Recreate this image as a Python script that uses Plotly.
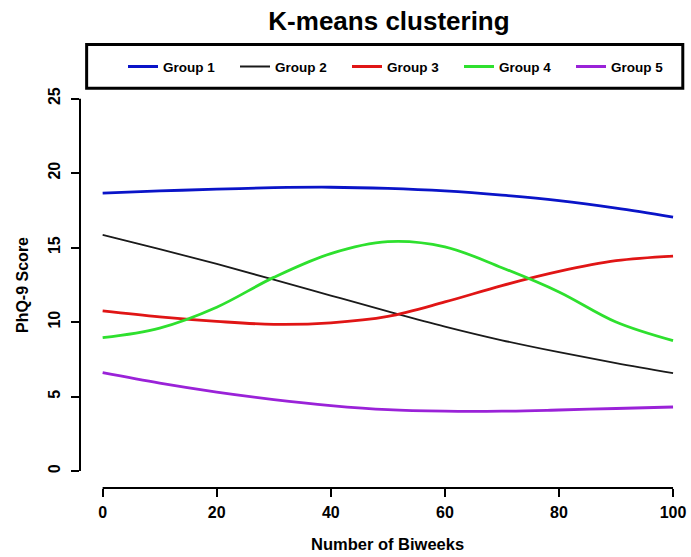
import plotly.graph_objects as go

# Biweek index at which each cluster trajectory is sampled
biweeks = [0, 10, 20, 30, 40, 50, 60, 70, 80, 90, 100]

group1 = [18.65, 18.80, 18.92, 19.02, 19.05, 18.97, 18.80, 18.52, 18.15, 17.65, 17.05]
group2 = [15.85, 14.90, 13.90, 12.85, 11.78, 10.72, 9.70, 8.78, 7.98, 7.25, 6.58]
group3 = [10.75, 10.35, 10.05, 9.85, 9.95, 10.38, 11.35, 12.45, 13.40, 14.12, 14.43]
group4 = [8.95, 9.60, 11.00, 13.00, 14.60, 15.40, 15.05, 13.65, 12.02, 10.00, 8.75]
group5 = [6.60, 5.90, 5.30, 4.80, 4.40, 4.12, 4.02, 4.02, 4.10, 4.20, 4.30]

series = [
    ("Group 1", group1, "#0a14c8", 2.8),
    ("Group 2", group2, "#1a1a1a", 1.8),
    ("Group 3", group3, "#e01515", 2.8),
    ("Group 4", group4, "#2ee02e", 2.8),
    ("Group 5", group5, "#9a22d8", 2.8),
]

x_ticks = [0, 20, 40, 60, 80, 100]
y_ticks = [0, 5, 10, 15, 20, 25]

FONT = "Liberation Sans, Arial, Helvetica, sans-serif"

fig = go.Figure()
for name, vals, color, width in series:
    fig.add_trace(go.Scatter(
        x=biweeks, y=vals, name=name, mode="lines",
        line=dict(color=color, width=width, shape="spline", smoothing=1.0),
    ))

W, H = 691, 557
L, R, T, B = 80, 5, 97, 69

fig.update_layout(
    width=W, height=H,
    margin=dict(l=L, r=R, t=T, b=B),
    paper_bgcolor="white", plot_bgcolor="white",
    font=dict(family=FONT, color="black"),
    title=dict(
        text="K-means clustering",
        x=389 / W, xanchor="center", xref="container",
        y=1 - 21 / H, yanchor="middle", yref="container",
        font=dict(size=26, weight="bold", family=FONT),
    ),
    showlegend=True,
    legend=dict(
        orientation="h",
        xref="container", yref="container",
        x=123 / W, xanchor="left",
        y=1 - 66.7 / H, yanchor="middle",
        bgcolor="rgba(0,0,0,0)", borderwidth=0,
        font=dict(size=13.5, weight="bold", family=FONT),
        entrywidth=67, entrywidthmode="pixels",
        traceorder="normal",
    ),
    xaxis=dict(
        range=[-3.97, 101.92], showgrid=False, zeroline=False, showline=False,
        tickmode="array", tickvals=x_ticks,
        ticks="outside", ticklen=8, tickwidth=2, tickcolor="black",
        tickfont=dict(size=16, weight="bold", family=FONT),
        ticklabelstandoff=2,
    ),
    yaxis=dict(
        range=[-1.136, 25.0], showgrid=False, zeroline=False, showline=False,
        tickmode="array", tickvals=y_ticks,
        ticks="outside", ticklen=8, tickwidth=2, tickcolor="black",
        tickfont=dict(size=16, weight="bold", family=FONT),
        tickangle=-90,
        ticklabelstandoff=5,
    ),
)

# Axis lines that only span the tick range
fig.add_shape(type="line", xref="x", yref="paper", x0=0, x1=100, y0=0, y1=0,
              line=dict(color="black", width=2))
fig.add_shape(type="line", xref="paper", yref="y", x0=0, x1=0, y0=0, y1=25,
              line=dict(color="black", width=2))

# Frame around the legend
fig.add_shape(type="rect", xref="paper", yref="paper",
              x0=0.011, x1=0.998, y0=1.0263, y1=1.1389,
              line=dict(color="black", width=3), fillcolor="rgba(0,0,0,0)")

fig.add_annotation(text="Number of Biweeks", xref="x", yref="paper",
                   x=50, y=(488 - 544) / (H - T - B), showarrow=False,
                   xanchor="center", yanchor="middle",
                   font=dict(size=16.5, weight="bold", family=FONT))
fig.add_annotation(text="PhQ-9 Score", xref="paper", yref="y",
                   x=(23 - L) / (W - L - R), y=12.5, showarrow=False,
                   textangle=-90, xanchor="center", yanchor="middle",
                   font=dict(size=16, weight="bold", family=FONT))

fig.write_html("out.html")
